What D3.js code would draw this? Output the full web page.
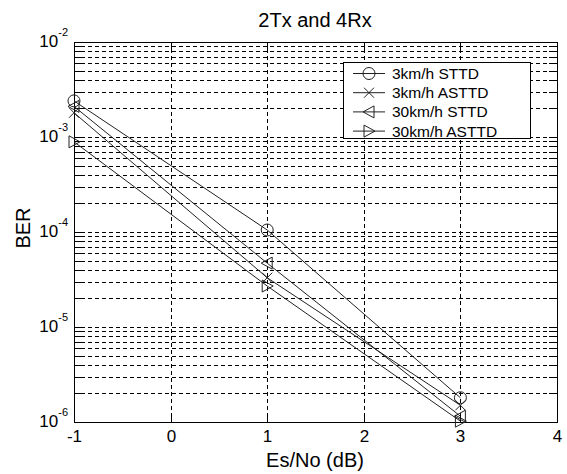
<!DOCTYPE html>
<html><head><meta charset="utf-8">
<script src="https://cdn.jsdelivr.net/npm/d3@7"></script>
<style>
html,body{margin:0;padding:0;background:#fff;}
text{font-family:"Liberation Sans",Arial,Helvetica,sans-serif;fill:#000;}
</style></head>
<body><svg id="c" width="567" height="474"></svg>
<script>
const xValues = [-1, 1, 3];
const sttd3 = [2.4e-3, 1.05e-4, 1.8e-6];
const asttd3 = [1.8e-3, 3.3e-5, 1.5e-6];
const sttd30 = [2.1e-3, 4.7e-5, 1.15e-6];
const asttd30 = [8.9e-4, 2.7e-5, 1.02e-6];
const seriesNames = ["3km/h STTD", "3km/h ASTTD", "30km/h STTD", "30km/h ASTTD"];
const seriesMarkers = ["circle", "x", "tleft", "tright"];
const xTicks = [-1, 0, 1, 2, 3, 4];
const yDecades = [-6, -5, -4, -3, -2];
const title = "2Tx and 4Rx";
const xLabel = "Es/No (dB)";
const yLabel = "BER";

const svg = d3.select("#c");
const L = 74, R = 557, T = 42, B = 422;
const x = d3.scaleLinear().domain([-1, 4]).range([L, R]);
const y = d3.scaleLog().domain([1e-6, 1e-2]).range([B, T]);

const minor = [];
for (let d = -6; d < -2; d++) for (let m = 1; m <= 9; m++) minor.push(m * Math.pow(10, d));
minor.push(1e-2);

const g = svg.append("g");
g.selectAll(".hg").data(minor.filter(v => v > 1e-6 && v < 1e-2)).enter().append("line")
  .attr("x1", L).attr("x2", R).attr("y1", d => Math.round(y(d)) + 0.5).attr("y2", d => Math.round(y(d)) + 0.5)
  .attr("stroke", "#000").attr("stroke-width", 1).attr("stroke-dasharray", "4,3").attr("shape-rendering", "crispEdges");
g.selectAll(".vg").data(xTicks.filter(v => v > -1 && v < 4)).enter().append("line")
  .attr("y1", T).attr("y2", B).attr("x1", d => Math.round(x(d)) + 0.5).attr("x2", d => Math.round(x(d)) + 0.5)
  .attr("stroke", "#000").attr("stroke-width", 1).attr("stroke-dasharray", "4,3").attr("shape-rendering", "crispEdges");

const tl = 8;
const xb = svg.append("g").attr("transform", `translate(0,${B})`)
  .call(d3.axisBottom(x).tickValues(xTicks).tickSize(-tl).tickSizeOuter(0).tickFormat(d => d));
const xt = svg.append("g").attr("transform", `translate(0,${T})`)
  .call(d3.axisTop(x).tickValues(xTicks).tickSize(-tl).tickSizeOuter(0).tickFormat(""));
const yl = svg.append("g").attr("transform", `translate(${L},0)`)
  .call(d3.axisLeft(y).tickValues(minor).tickSize(-tl).tickSizeOuter(0).tickFormat(""));
const yr = svg.append("g").attr("transform", `translate(${R},0)`)
  .call(d3.axisRight(y).tickValues(minor).tickSize(-tl).tickSizeOuter(0).tickFormat(""));
[xb, xt, yl, yr].forEach(a => {
  a.select(".domain").remove();
  a.selectAll(".tick line").attr("stroke", "#000").attr("shape-rendering", "crispEdges");
});
xb.selectAll(".tick text").attr("y", 20).attr("dy", 0).attr("font-size", 17)
  .attr("font-family", "Liberation Sans, Arial, sans-serif").attr("fill", "#000");
xb.selectAll(".tick").attr("transform", d => `translate(${Math.round(x(d)) + 0.5},0)`);
xt.selectAll(".tick").attr("transform", d => `translate(${Math.round(x(d)) + 0.5},0)`);
yl.selectAll(".tick").attr("transform", d => `translate(0,${Math.round(y(d)) + 0.5})`);
yr.selectAll(".tick").attr("transform", d => `translate(0,${Math.round(y(d)) + 0.5})`);

const yt = svg.append("g");
yDecades.forEach(e => {
  const t = yt.append("text").attr("x", 68).attr("y", y(Math.pow(10, e)) + 5)
    .attr("text-anchor", "end").attr("font-size", 17);
  t.append("tspan").text("10");
  t.append("tspan").attr("dy", -11).attr("font-size", 11).text(String(e));
});

svg.append("rect").attr("x", L + 0.5).attr("y", T + 0.5).attr("width", R - L).attr("height", B - T)
  .attr("fill", "none").attr("stroke", "#000").attr("stroke-width", 1).attr("shape-rendering", "crispEdges");

const allSeries = [sttd3, asttd3, sttd30, asttd30];
const line = d3.line().x((d, i) => x(xValues[i])).y(d => y(d));
const lc = "#222";
function marker(sel, type, s) {
  if (type === "circle") sel.append("circle").attr("r", 6).attr("fill", "none").attr("stroke", lc);
  else if (type === "x") sel.append("path").attr("d", `M${-s},${-s}L${s},${s}M${-s},${s}L${s},${-s}`).attr("stroke", lc).attr("fill", "none");
  else if (type === "tleft") sel.append("path").attr("d", `M${-s-1},0L${s},${-s-1}L${s},${s+1}Z`).attr("stroke", lc).attr("fill", "none");
  else if (type === "tright") sel.append("path").attr("d", `M${s+1},0L${-s},${-s-1}L${-s},${s+1}Z`).attr("stroke", lc).attr("fill", "none");
}
allSeries.forEach((s, k) => {
  svg.append("path").attr("d", line(s)).attr("fill", "none").attr("stroke", lc).attr("stroke-width", 1);
  s.forEach((v, i) => {
    const m = svg.append("g").attr("transform", `translate(${x(xValues[i])},${y(v)})`);
    marker(m, seriesMarkers[k], 5);
  });
});

const lg = svg.append("g");
lg.append("rect").attr("x", 343.5).attr("y", 62.5).attr("width", 187).attr("height", 76)
  .attr("fill", "#fff").attr("stroke", "#000").attr("shape-rendering", "crispEdges");
seriesNames.forEach((n, k) => {
  const cy = 73.5 + k * 19.2;
  lg.append("line").attr("x1", 353).attr("x2", 385).attr("y1", cy).attr("y2", cy).attr("stroke", lc);
  const m = lg.append("g").attr("transform", `translate(369,${cy})`);
  marker(m, seriesMarkers[k], 5);
  lg.append("text").attr("x", 392).attr("y", cy + 5.5).attr("font-size", 15.5).text(n);
});

svg.append("text").attr("x", 315).attr("y", 27).attr("text-anchor", "middle").attr("font-size", 20).text(title);
svg.append("text").attr("x", 315).attr("y", 467).attr("text-anchor", "middle").attr("font-size", 20).text(xLabel);
svg.append("text").attr("transform", "translate(30,228) rotate(-90)").attr("text-anchor", "middle").attr("font-size", 20).text(yLabel);
</script></body></html>
